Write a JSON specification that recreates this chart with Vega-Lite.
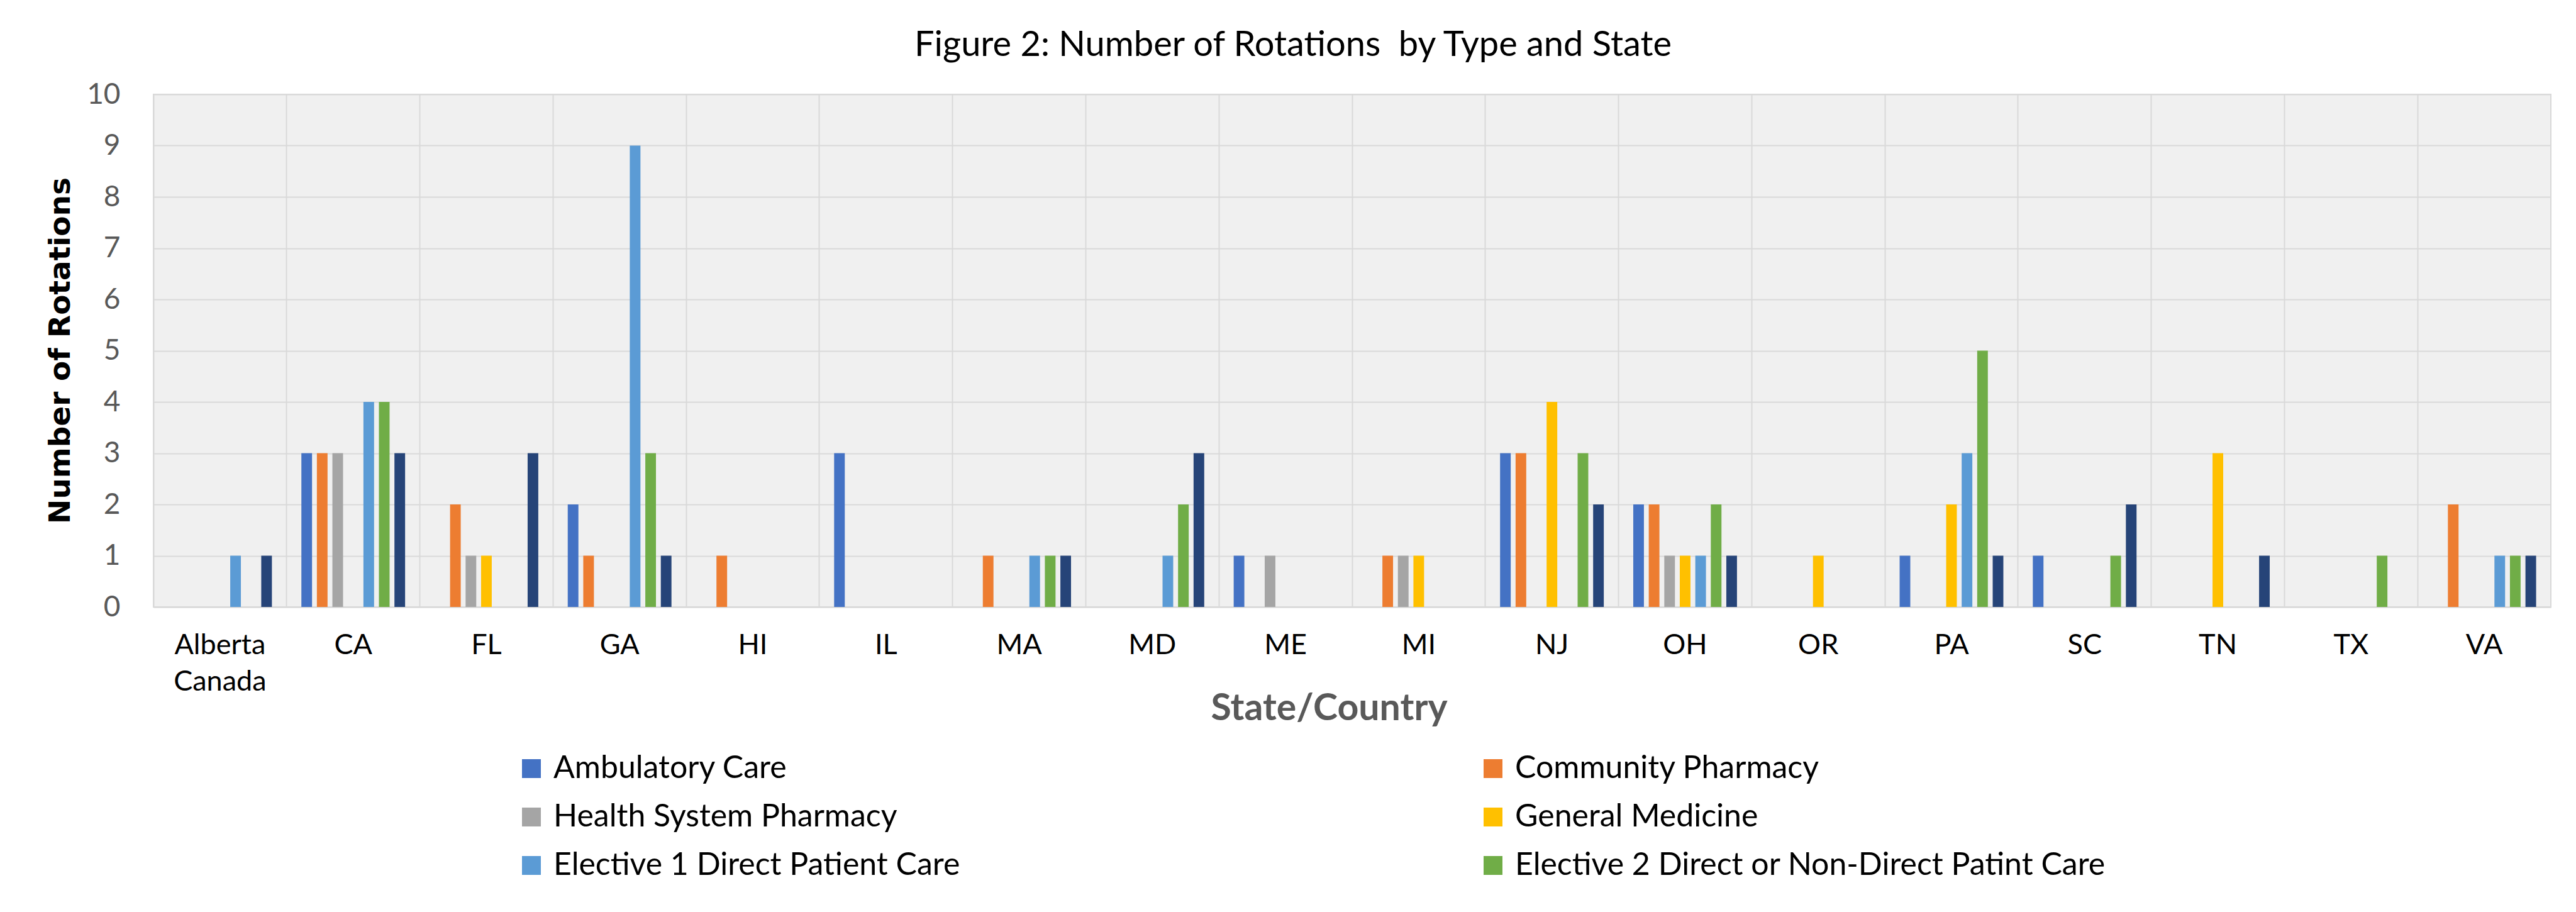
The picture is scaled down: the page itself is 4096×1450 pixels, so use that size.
{
  "$schema": "https://vega.github.io/schema/vega-lite/v6.json",
  "autosize": {"type": "none"},
  "width": 3812,
  "height": 815,
  "padding": {"left": 244, "top": 150, "right": 40, "bottom": 485},
  "background": "white",
  "title": {
    "text": "Figure 2: Number of Rotations\u00a0 by Type and State",
    "font": "Lato",
    "fontSize": 56,
    "fontWeight": "normal",
    "color": "#000000",
    "anchor": "middle",
    "frame": "group",
    "dx": -94,
    "offset": 26
  },
  "config": {
    "view": {"fill": "#f0f0f0", "stroke": "#d9d9d9", "strokeWidth": 2},
    "font": "Lato"
  },
  "data": {
    "values": [
      {"state": "Alberta Canada", "type": "Elective 1 Direct Patient Care", "n": 1},
      {"state": "Alberta Canada", "type": "Other", "n": 1},
      {"state": "CA", "type": "Ambulatory Care", "n": 3},
      {"state": "CA", "type": "Community Pharmacy", "n": 3},
      {"state": "CA", "type": "Health System Pharmacy", "n": 3},
      {"state": "CA", "type": "Elective 1 Direct Patient Care", "n": 4},
      {"state": "CA", "type": "Elective 2 Direct or Non-Direct Patint Care", "n": 4},
      {"state": "CA", "type": "Other", "n": 3},
      {"state": "FL", "type": "Community Pharmacy", "n": 2},
      {"state": "FL", "type": "Health System Pharmacy", "n": 1},
      {"state": "FL", "type": "General Medicine", "n": 1},
      {"state": "FL", "type": "Other", "n": 3},
      {"state": "GA", "type": "Ambulatory Care", "n": 2},
      {"state": "GA", "type": "Community Pharmacy", "n": 1},
      {"state": "GA", "type": "Elective 1 Direct Patient Care", "n": 9},
      {"state": "GA", "type": "Elective 2 Direct or Non-Direct Patint Care", "n": 3},
      {"state": "GA", "type": "Other", "n": 1},
      {"state": "HI", "type": "Community Pharmacy", "n": 1},
      {"state": "IL", "type": "Ambulatory Care", "n": 3},
      {"state": "MA", "type": "Community Pharmacy", "n": 1},
      {"state": "MA", "type": "Elective 1 Direct Patient Care", "n": 1},
      {"state": "MA", "type": "Elective 2 Direct or Non-Direct Patint Care", "n": 1},
      {"state": "MA", "type": "Other", "n": 1},
      {"state": "MD", "type": "Elective 1 Direct Patient Care", "n": 1},
      {"state": "MD", "type": "Elective 2 Direct or Non-Direct Patint Care", "n": 2},
      {"state": "MD", "type": "Other", "n": 3},
      {"state": "ME", "type": "Ambulatory Care", "n": 1},
      {"state": "ME", "type": "Health System Pharmacy", "n": 1},
      {"state": "MI", "type": "Community Pharmacy", "n": 1},
      {"state": "MI", "type": "Health System Pharmacy", "n": 1},
      {"state": "MI", "type": "General Medicine", "n": 1},
      {"state": "NJ", "type": "Ambulatory Care", "n": 3},
      {"state": "NJ", "type": "Community Pharmacy", "n": 3},
      {"state": "NJ", "type": "General Medicine", "n": 4},
      {"state": "NJ", "type": "Elective 2 Direct or Non-Direct Patint Care", "n": 3},
      {"state": "NJ", "type": "Other", "n": 2},
      {"state": "OH", "type": "Ambulatory Care", "n": 2},
      {"state": "OH", "type": "Community Pharmacy", "n": 2},
      {"state": "OH", "type": "Health System Pharmacy", "n": 1},
      {"state": "OH", "type": "General Medicine", "n": 1},
      {"state": "OH", "type": "Elective 1 Direct Patient Care", "n": 1},
      {"state": "OH", "type": "Elective 2 Direct or Non-Direct Patint Care", "n": 2},
      {"state": "OH", "type": "Other", "n": 1},
      {"state": "OR", "type": "General Medicine", "n": 1},
      {"state": "PA", "type": "Ambulatory Care", "n": 1},
      {"state": "PA", "type": "General Medicine", "n": 2},
      {"state": "PA", "type": "Elective 1 Direct Patient Care", "n": 3},
      {"state": "PA", "type": "Elective 2 Direct or Non-Direct Patint Care", "n": 5},
      {"state": "PA", "type": "Other", "n": 1},
      {"state": "SC", "type": "Ambulatory Care", "n": 1},
      {"state": "SC", "type": "Elective 2 Direct or Non-Direct Patint Care", "n": 1},
      {"state": "SC", "type": "Other", "n": 2},
      {"state": "TN", "type": "General Medicine", "n": 3},
      {"state": "TN", "type": "Other", "n": 1},
      {"state": "TX", "type": "Elective 2 Direct or Non-Direct Patint Care", "n": 1},
      {"state": "VA", "type": "Community Pharmacy", "n": 2},
      {"state": "VA", "type": "Elective 1 Direct Patient Care", "n": 1},
      {"state": "VA", "type": "Elective 2 Direct or Non-Direct Patint Care", "n": 1},
      {"state": "VA", "type": "Other", "n": 1}
    ]
  },
  "mark": {"type": "bar"},
  "encoding": {
    "x": {
      "field": "state",
      "type": "nominal",
      "scale": {
        "domain": ["Alberta Canada", "CA", "FL", "GA", "HI", "IL", "MA", "MD", "ME", "MI", "NJ", "OH", "OR", "PA", "SC", "TN", "TX", "VA"],
        "paddingInner": 0,
        "paddingOuter": 0
      },
      "axis": {
        "title": "State/Country",
        "titleFont": "Lato",
        "titleFontSize": 59,
        "titleFontWeight": "bold",
        "titleColor": "#595959",
        "titleX": 1869,
        "titleY": 179,
        "titleBaseline": "alphabetic",
        "labelAngle": 0,
        "labelFont": "Lato",
        "labelFontSize": 45,
        "labelColor": "#000000",
        "labelPadding": 38,
        "labelLineHeight": 58,
        "labelExpr": "datum.label == 'Alberta Canada' ? ['Alberta', 'Canada'] : datum.label",
        "ticks": false,
        "domain": true,
        "domainColor": "#d9d9d9",
        "domainWidth": 2,
        "grid": true,
        "bandPosition": 0,
        "gridColor": "#d9d9d9",
        "gridWidth": 2
      }
    },
    "xOffset": {
      "field": "type",
      "type": "nominal",
      "scale": {
        "domain": ["Ambulatory Care", "Community Pharmacy", "Health System Pharmacy", "General Medicine", "Elective 1 Direct Patient Care", "Elective 2 Direct or Non-Direct Patint Care", "Other"],
        "paddingInner": 0.313,
        "paddingOuter": 0.95
      }
    },
    "y": {
      "field": "n",
      "type": "quantitative",
      "scale": {"domain": [0, 10], "nice": false},
      "axis": {
        "title": "Number of Rotations",
        "titleFont": "DejaVu Sans",
        "titleFontSize": 47,
        "titleFontWeight": "bold",
        "titleColor": "#000000",
        "titleAngle": -90,
        "titleX": -148,
        "titleY": 407,
        "titleBaseline": "middle",
        "titleAlign": "center",
        "values": [0, 1, 2, 3, 4, 5, 6, 7, 8, 9, 10],
        "labelFont": "Lato",
        "labelFontSize": 46,
        "labelColor": "#595959",
        "labelPadding": 53,
        "ticks": false,
        "domain": false,
        "grid": true,
        "gridColor": "#d9d9d9",
        "gridWidth": 2
      }
    },
    "color": {
      "field": "type",
      "type": "nominal",
      "scale": {
        "domain": ["Ambulatory Care", "Community Pharmacy", "Health System Pharmacy", "General Medicine", "Elective 1 Direct Patient Care", "Elective 2 Direct or Non-Direct Patint Care", "Other"],
        "range": ["#4472C4", "#ED7D31", "#A5A5A5", "#FFC000", "#5B9BD5", "#70AD47", "#264478"]
      },
      "legend": {
        "title": null,
        "orient": "none",
        "direction": "horizontal",
        "legendX": 576,
        "legendY": 1047,
        "columns": 2,
        "columnPadding": 822,
        "rowPadding": 27,
        "values": ["Ambulatory Care", "Community Pharmacy", "Health System Pharmacy", "General Medicine", "Elective 1 Direct Patient Care", "Elective 2 Direct or Non-Direct Patint Care"],
        "symbolType": "square",
        "symbolSize": 900,
        "symbolStrokeWidth": 0,
        "labelFont": "Lato",
        "labelFontSize": 50,
        "labelColor": "#000000",
        "labelOffset": 10,
        "labelLimit": 2000
      }
    }
  }
}
